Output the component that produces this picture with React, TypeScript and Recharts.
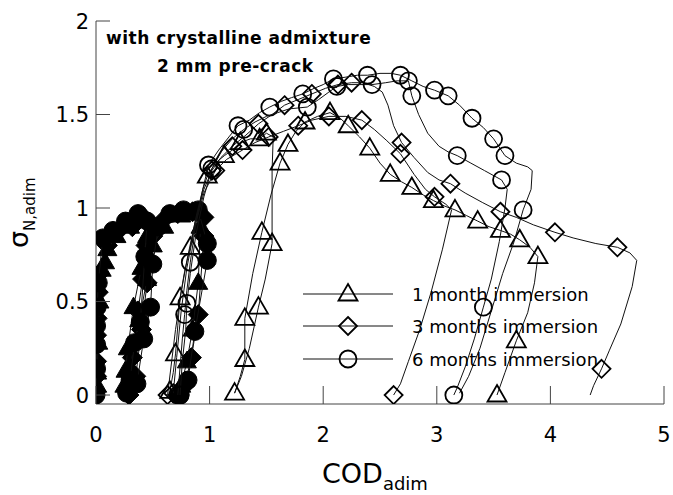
import { Scatter, ScatterChart, XAxis, YAxis } from "recharts";

// [COD, sigma, marker?]
type Pt = [number, number, number?];

const FONT = "'DejaVu Sans', sans-serif";

const xTicks = [0, 1, 2, 3, 4, 5];
const yTicks = [0, 0.5, 1, 1.5, 2];

const legendLabels = ["1 month immersion", "3 months immersion", "6 months immersion"];

// pre-cracking runs (filled symbols, every point marked)
const preCircle: Pt[] = [
  [0, 0], [0.005, 0.14], [0.005, 0.27], [0.005, 0.37], [0.01, 0.47], [0.02, 0.6], [0.06, 0.84],
  [0.15, 0.88], [0.26, 0.93], [0.37, 0.97], [0.45, 0.93], [0.43, 0.74], [0.39, 0.39], [0.34, 0.28],
  [0.3, 0.08], [0.27, 0.01], [0.36, 0.06], [0.42, 0.3], [0.48, 0.47], [0.5, 0.7], [0.55, 0.9],
  [0.65, 0.97], [0.77, 0.99], [0.9, 0.99], [0.98, 0.81], [0.98, 0.72], [0.87, 0.34], [0.81, 0.08], [0.74, 0],
];
const preDiamond: Pt[] = [
  [0, 0.02], [0.005, 0.1], [0.005, 0.18], [0.005, 0.32], [0.01, 0.41], [0.02, 0.55], [0.03, 0.65],
  [0.1, 0.8], [0.2, 0.88], [0.32, 0.9], [0.42, 0.95], [0.44, 0.8], [0.41, 0.62], [0.37, 0.45],
  [0.32, 0.2], [0.29, 0], [0.35, 0.1], [0.4, 0.35], [0.45, 0.6], [0.5, 0.85], [0.6, 0.94],
  [0.72, 0.97], [0.85, 0.98], [0.95, 0.95], [0.95, 0.85], [0.9, 0.43], [0.84, 0.2], [0.78, 0.05], [0.72, 0],
];
const preTriangle: Pt[] = [
  [0.01, 0.05], [0.01, 0.12], [0.02, 0.28], [0.03, 0.5], [0.05, 0.67], [0.08, 0.71], [0.1, 0.78],
  [0.18, 0.85], [0.3, 0.9], [0.4, 0.93], [0.45, 0.85], [0.4, 0.68], [0.33, 0.47], [0.28, 0.25],
  [0.26, 0.13], [0.25, 0.05], [0.3, 0.15], [0.38, 0.4], [0.45, 0.62], [0.5, 0.8], [0.6, 0.9],
  [0.75, 0.96], [0.88, 0.97], [0.92, 0.9], [0.9, 0.6], [0.85, 0.35], [0.8, 0.18], [0.75, 0.05],
];

// reloading after immersion (open symbols on some points)
const oneMonth: Pt[] = [
  [0.65, 0.02, 1], [0.68, 0.12], [0.7, 0.22, 1], [0.72, 0.37], [0.74, 0.52, 1], [0.78, 0.66], [0.83, 0.79, 1],
  [0.88, 0.95], [0.94, 1.1], [0.98, 1.17, 1], [1.05, 1.24], [1.13, 1.28, 1], [1.2, 1.31], [1.27, 1.35, 1],
  [1.36, 1.37], [1.44, 1.37, 1], [1.5, 1.4, 1], [1.56, 1.38], [1.55, 1.2], [1.55, 0.81, 1], [1.49, 0.62],
  [1.43, 0.47, 1], [1.35, 0.25], [1.28, 0.1], [1.22, 0.01, 1], [1.27, 0.1], [1.31, 0.19, 1], [1.31, 0.41, 1],
  [1.38, 0.65], [1.46, 0.87, 1], [1.54, 1.07], [1.62, 1.24, 1], [1.69, 1.34, 1], [1.76, 1.41], [1.84, 1.46, 1],
  [1.95, 1.49], [2.06, 1.51, 1], [2.15, 1.48], [2.22, 1.44, 1], [2.32, 1.38], [2.41, 1.32, 1], [2.5, 1.24],
  [2.59, 1.18, 1], [2.69, 1.14], [2.78, 1.11, 1], [2.88, 1.07], [2.97, 1.04, 1], [3.07, 1.01], [3.16, 0.99, 1],
  [3.26, 0.96], [3.36, 0.93, 1], [3.46, 0.9], [3.56, 0.88, 1], [3.65, 0.86], [3.73, 0.83, 1], [3.82, 0.79],
  [3.89, 0.74, 1], [3.86, 0.6], [3.8, 0.44], [3.7, 0.29, 1], [3.6, 0.12], [3.53, 0, 1],
];
const threeMonthsA: Pt[] = [
  [0.63, 0, 1], [0.66, 0.15], [0.7, 0.35], [0.75, 0.55], [0.8, 0.72], [0.87, 0.92], [0.95, 1.1],
  [1.02, 1.2, 1], [1.1, 1.27], [1.2, 1.33, 1], [1.32, 1.39], [1.43, 1.45, 1], [1.55, 1.5], [1.66, 1.55, 1],
  [1.78, 1.58], [1.9, 1.61, 1], [2.02, 1.64], [2.13, 1.66, 1], [2.25, 1.67, 1], [2.35, 1.67], [2.45, 1.65],
  [2.52, 1.62], [2.57, 1.55], [2.62, 1.44], [2.69, 1.35, 1], [2.8, 1.27], [2.92, 1.19], [3.02, 1.15],
  [3.12, 1.13, 1], [3.25, 1.08], [3.4, 1.03], [3.56, 0.98, 1], [3.7, 0.95], [3.85, 0.91], [4.04, 0.87, 1],
  [4.2, 0.84], [4.4, 0.81], [4.59, 0.79, 1], [4.7, 0.76], [4.76, 0.72], [4.72, 0.58], [4.62, 0.38],
  [4.52, 0.24], [4.45, 0.14, 1], [4.38, 0.05], [4.35, 0],
];
const threeMonthsB: Pt[] = [
  [0.68, 0.01, 1], [0.71, 0.2], [0.75, 0.45], [0.8, 0.68], [0.87, 0.9], [0.95, 1.08], [1.05, 1.2, 1],
  [1.15, 1.26], [1.29, 1.31, 1], [1.4, 1.35], [1.52, 1.38, 1], [1.65, 1.41], [1.78, 1.44, 1], [1.9, 1.47],
  [2.05, 1.49, 1], [2.2, 1.49], [2.34, 1.47, 1], [2.45, 1.42], [2.56, 1.36], [2.68, 1.29, 1], [2.8, 1.18],
  [2.9, 1.1], [2.98, 1.06, 1], [3.08, 1.02], [3.13, 0.99], [3.05, 0.78], [2.95, 0.55], [2.85, 0.35],
  [2.75, 0.18], [2.68, 0.06], [2.62, 0, 1],
];
const sixMonthsA: Pt[] = [
  [0.72, 0, 1], [0.74, 0.15], [0.76, 0.3], [0.78, 0.43, 1], [0.8, 0.56], [0.83, 0.71, 1], [0.88, 0.92],
  [0.94, 1.1], [0.99, 1.23, 1], [1.08, 1.31], [1.17, 1.38], [1.25, 1.44, 1], [1.35, 1.47], [1.44, 1.51],
  [1.53, 1.54, 1], [1.63, 1.57], [1.72, 1.59], [1.82, 1.61, 1], [1.92, 1.64], [2.0, 1.66], [2.09, 1.69, 1],
  [2.2, 1.7], [2.3, 1.71], [2.39, 1.71, 1], [2.5, 1.72], [2.6, 1.72], [2.68, 1.71, 1], [2.78, 1.68],
  [2.88, 1.65], [2.98, 1.63, 1], [3.1, 1.6, 1], [3.2, 1.55], [3.31, 1.48, 1], [3.41, 1.43], [3.5, 1.37, 1],
  [3.6, 1.28, 1], [3.7, 1.24], [3.8, 1.22], [3.84, 1.2], [3.83, 1.1], [3.76, 0.99, 1], [3.68, 0.82],
  [3.58, 0.65], [3.48, 0.45], [3.38, 0.25], [3.28, 0.1], [3.2, 0.01],
];
const sixMonthsB: Pt[] = [
  [0.74, 0, 1], [0.76, 0.18], [0.79, 0.35], [0.8, 0.49, 1], [0.83, 0.65], [0.88, 0.86], [0.95, 1.06],
  [1.02, 1.21, 1], [1.1, 1.3], [1.2, 1.37], [1.3, 1.42, 1], [1.4, 1.46], [1.5, 1.49], [1.6, 1.51],
  [1.7, 1.53], [1.86, 1.54, 1], [1.96, 1.58], [2.05, 1.62], [2.12, 1.65, 1], [2.22, 1.66], [2.32, 1.66],
  [2.43, 1.66, 1], [2.55, 1.67], [2.65, 1.68], [2.75, 1.68, 1], [2.78, 1.6, 1], [2.84, 1.5], [2.92, 1.4],
  [3.02, 1.33], [3.1, 1.3], [3.18, 1.28, 1], [3.3, 1.24], [3.42, 1.2], [3.57, 1.15, 1], [3.62, 1.1],
  [3.6, 1.0], [3.55, 0.82], [3.48, 0.62], [3.41, 0.47, 1], [3.33, 0.3], [3.25, 0.15], [3.18, 0.04], [3.15, 0, 1],
];

type Kind = "triangle" | "diamond" | "circle";

const rows = (pts: Pt[], allMarked = false) =>
  pts.map(([x, y, m]) => ({ x, y, m: allMarked || m === 1 }));

function symbol(kind: Kind, filled: boolean, cx: number, cy: number) {
  const fill = filled ? "#000" : "none";
  const sw = filled ? 1 : 1.8;
  if (kind === "circle") {
    return <circle cx={cx} cy={cy} r={filled ? 9 : 8.5} fill={fill} stroke="#000" strokeWidth={sw} />;
  }
  if (kind === "diamond") {
    const d = filled ? 10 : 9;
    return (
      <polygon
        points={`${cx},${cy - d} ${cx + d},${cy} ${cx},${cy + d} ${cx - d},${cy}`}
        fill={fill}
        stroke="#000"
        strokeWidth={sw}
      />
    );
  }
  return (
    <polygon
      points={`${cx},${cy - 10} ${cx + 9.5},${cy + 6.5} ${cx - 9.5},${cy + 6.5}`}
      fill={fill}
      stroke="#000"
      strokeWidth={sw}
      strokeLinejoin="miter"
    />
  );
}

const markerShape = (kind: Kind, filled: boolean) => (p: any) =>
  p.payload && p.payload.m ? symbol(kind, filled, p.cx, p.cy) : <g />;

const XTick = (p: any) => (
  <g>
    <line x1={p.x} y1={p.y} x2={p.x} y2={p.y - 18} stroke="#444" />
    <text x={p.x} y={p.y + 38} textAnchor="middle" fontSize={21} fontFamily={FONT} fill="#000">
      {p.payload.value}
    </text>
  </g>
);

const YTick = (p: any) => (
  <g>
    <line x1={p.x} y1={p.y} x2={p.x + 14} y2={p.y} stroke="#444" />
    <text x={p.x - 7} y={p.y + 7.5} textAnchor="end" fontSize={21} fontFamily={FONT} fill="#000">
      {p.payload.value}
    </text>
  </g>
);

const series: { pts: Pt[]; kind: Kind; filled: boolean }[] = [
  { pts: preDiamond, kind: "diamond", filled: true },
  { pts: preTriangle, kind: "triangle", filled: true },
  { pts: preCircle, kind: "circle", filled: true },
  { pts: oneMonth, kind: "triangle", filled: false },
  { pts: threeMonthsA, kind: "diamond", filled: false },
  { pts: threeMonthsB, kind: "diamond", filled: false },
  { pts: sixMonthsA, kind: "circle", filled: false },
  { pts: sixMonthsB, kind: "circle", filled: false },
];

const legendKinds: Kind[] = ["triangle", "diamond", "circle"];
const legendRows = [294, 326, 359];

export default function App() {
  return (
    <div style={{ position: "absolute", left: 0, top: 0, width: 673, height: 495, background: "#fff", fontFamily: FONT }}>
      <ScatterChart width={673} height={495} margin={{ top: 21, right: 9, bottom: 51, left: 36 }}>
        <XAxis
          type="number"
          dataKey="x"
          domain={[0, 5]}
          ticks={xTicks}
          height={40}
          tickSize={0}
          tickMargin={0}
          tickLine={false}
          stroke="#444"
          tick={<XTick />}
          allowDataOverflow
        />
        <YAxis
          type="number"
          dataKey="y"
          domain={[-0.048, 2]}
          ticks={yTicks}
          width={60}
          tickSize={0}
          tickMargin={0}
          tickLine={false}
          stroke="#444"
          tick={<YTick />}
          allowDataOverflow
        />
        {series.map((s, i) => (
          <Scatter
            key={i}
            data={rows(s.pts, s.filled)}
            line={{ stroke: "#111", strokeWidth: 1 }}
            lineType="joint"
            shape={markerShape(s.kind, s.filled)}
            isAnimationActive={false}
          />
        ))}
      </ScatterChart>

      <svg width={673} height={495} style={{ position: "absolute", left: 0, top: 0, pointerEvents: "none" }}>
        <text x={106} y={44} fontSize={17} fontWeight="bold" fontFamily={FONT} letterSpacing={0.5}>
          with crystalline admixture
        </text>
        <text x={157} y={72} fontSize={17} fontWeight="bold" fontFamily={FONT} letterSpacing={0.5}>
          2 mm pre-crack
        </text>

        {legendLabels.map((label, i) => (
          <g key={label}>
            <line x1={303} y1={legendRows[i]} x2={393} y2={legendRows[i]} stroke="#111" strokeWidth={1} />
            {symbol(legendKinds[i], false, 348, legendRows[i])}
            <text x={412} y={legendRows[i] + 7} fontSize={18} fontFamily={FONT}>
              {label}
            </text>
          </g>
        ))}

        <text x={322} y={483} fontSize={27} fontFamily={FONT}>
          COD
          <tspan fontSize={18} dy={7}>
            adim
          </tspan>
        </text>

        <text transform="translate(28,248) rotate(-90)" fontSize={27} fontFamily={FONT}>
          σ
          <tspan fontSize={15} dy={7}>
            N,adim
          </tspan>
        </text>
      </svg>
    </div>
  );
}
